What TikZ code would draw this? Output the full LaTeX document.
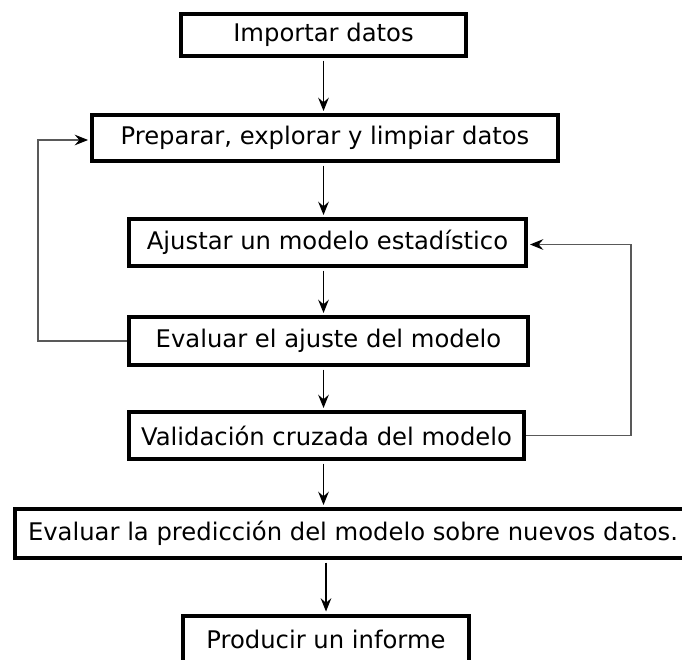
\documentclass[tikz,border=0pt]{standalone}
\usepackage{fontspec}
\setmainfont{DejaVu Sans}
\usetikzlibrary{arrows.meta}

\begin{document}
\begin{tikzpicture}[x=0.75pt, y=-0.75pt,
        caja/.style={draw, line width=3pt, inner sep=0pt, align=center,
            font=\fontsize{18.2}{22}\selectfont},
        flecha/.style={-{Stealth[length=10pt, width=8pt, inset=3.5pt]}, line width=0.8pt,
            shorten <=2pt, shorten >=1.5pt},
        retorno/.style={-{Stealth[length=10pt, width=8pt, inset=3.5pt, fill=black, color=black]},
            line width=0.8pt, draw=black!65, shorten >=1.5pt}]
            \useasboundingbox (0, 0) rectangle (682, 660);

            \node[caja, minimum width=213.75pt, minimum height=31.5pt] (imp) at (323.5, 35) {Importar datos};
            \node[caja, minimum width=349.5pt, minimum height=34.5pt] (prep) at (325, 138) {Preparar, explorar y limpiar datos};
            \node[caja, minimum width=297.75pt, minimum height=35.25pt] (ajus) at (327.5, 242.5) {Ajustar un modelo estadístico};
            \node[caja, minimum width=299.25pt, minimum height=36pt] (eval) at (328.5, 341) {Evaluar el ajuste del modelo};
            \node[caja, minimum width=296.25pt, minimum height=35.25pt] (vali) at (326.5, 435.5) {Validación cruzada del modelo};
            \node[caja, minimum width=507pt, minimum height=36.75pt] (pred) at (353, 533.5) {Evaluar la predicción del modelo sobre nuevos datos.};
            \node[caja, minimum width=214.5pt, minimum height=35.25pt] (prod) at (326, 639) {Producir un informe};

            \draw[flecha] (imp.south) -- (imp.south |- prep.north);
            \draw[flecha] (imp.south |- prep.south) -- (imp.south |- ajus.north);
            \draw[flecha] (imp.south |- ajus.south) -- (imp.south |- eval.north);
            \draw[flecha] (imp.south |- eval.south) -- (imp.south |- vali.north);
            \draw[flecha] (imp.south |- vali.south) -- (imp.south |- pred.north);
            \draw[flecha] (prod.north |- pred.south) -- (prod.north);

            \draw[retorno] (eval.west) -- ++(-89, 0) |- ([yshift=-1.5pt]prep.west);
            \draw[retorno] (vali.east) -- ++(105, 0) |- ([yshift=-1.5pt]ajus.east);
        \end{tikzpicture}
\end{document}
